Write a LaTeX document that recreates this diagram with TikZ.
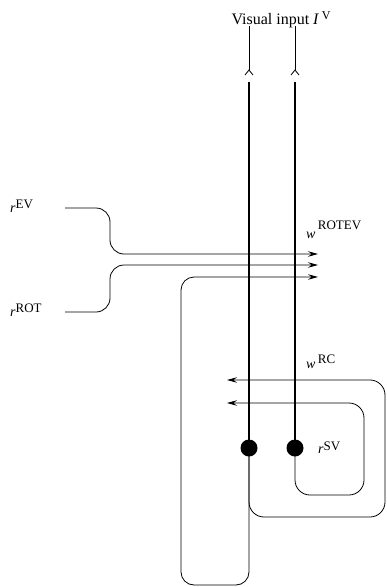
\documentclass[tikz,border=0pt]{standalone}
\usepackage{fontspec}
\setmainfont{Liberation Serif}
\usetikzlibrary{arrows.meta}
\begin{document}
\begin{tikzpicture}[x=1pt,y=-1pt,
  thinline/.style={line width=0.8pt},
  thickline/.style={line width=2.9pt},
  arr/.style={thinline,-{Stealth[length=10pt,width=5.5pt,inset=3.5pt]}},
  lab/.style={anchor=base west,inner sep=0pt,font=\fontsize{14}{14}\selectfont},
  dot/.style={circle,fill,inner sep=0pt,minimum size=17pt},
  rc/.style={rounded corners=15pt}]
\useasboundingbox (0,0) rectangle (387,587);
% title
\node[anchor=base,inner sep=0pt,font=\fontsize{16}{16}\selectfont] (title) at (281,24)
  {Visual input \textit{I}\,\raisebox{5pt}{\fontsize{12}{12}\selectfont V}};
% input lines
\coordinate (inA) at (249,26);
\coordinate (inB) at (295,26);
\coordinate (cA) at (249,70);
\coordinate (cB) at (295,70);
\coordinate (tA) at (249,82);
\coordinate (tB) at (295,82);
\draw[thinline] (inA) -- (cA);
\draw[thinline] (inB) -- (cB);
\draw[thinline] (cA) ++(-4,5) -- (cA) -- ++(4,5);
\draw[thinline] (cB) ++(-4,5) -- (cB) -- ++(4,5);
% named points
\coordinate (ev) at (65,208);
\coordinate (rot) at (65,312);
\coordinate (e1) at (318,254);
\coordinate (e2) at (318,265);
\coordinate (e3) at (318,277);
\coordinate (l1) at (227,380);
\coordinate (l2) at (227,403);
\coordinate (dApos) at (249,448);
\coordinate (dBpos) at (295,448);
% rightward arrows
\draw[arr,rounded corners=14pt] (ev) -- (110,208) -- (110,254) -- (e1);
\draw[arr,rounded corners=14pt] (rot) -- (110,312) -- (110,265) -- (e2);
\draw[arr,rounded corners=13pt] (dApos) -- (249,585) -- (181,585) -- (181,277) -- (e3);
% recurrent loops
\draw[arr,rc] (dApos) -- (249,517) -- (385,517) -- (385,380) -- (l1);
\draw[arr,rc] (dBpos) -- (295,495) -- (364,495) -- (364,403) -- (l2);
% thick lines and dots
\node[dot] (dA) at (dApos) {};
\node[dot] (dB) at (dBpos) {};
\draw[thickline] (tA) -- (dA.center);
\draw[thickline] (tB) -- (dB.center);
% labels
\node[lab] (rEV) at (10,212) {\textit{r}\raisebox{4pt}{\fontsize{13}{13}\selectfont EV}};
\node[lab] (rROT) at (10,316) {\textit{r}\raisebox{4pt}{\fontsize{13}{13}\selectfont ROT}};
\node[lab] (wROTEV) at (306,238) {\textit{w}\,\raisebox{9pt}{\fontsize{13}{13}\selectfont ROTEV}};
\node[lab] (wRC) at (306,368) {\textit{w}\,\raisebox{5pt}{\fontsize{13}{13}\selectfont RC}};
\node[lab] (rSV) at (318,453) {\textit{r}\raisebox{3pt}{\fontsize{13}{13}\selectfont SV}};
\end{tikzpicture}
\end{document}
